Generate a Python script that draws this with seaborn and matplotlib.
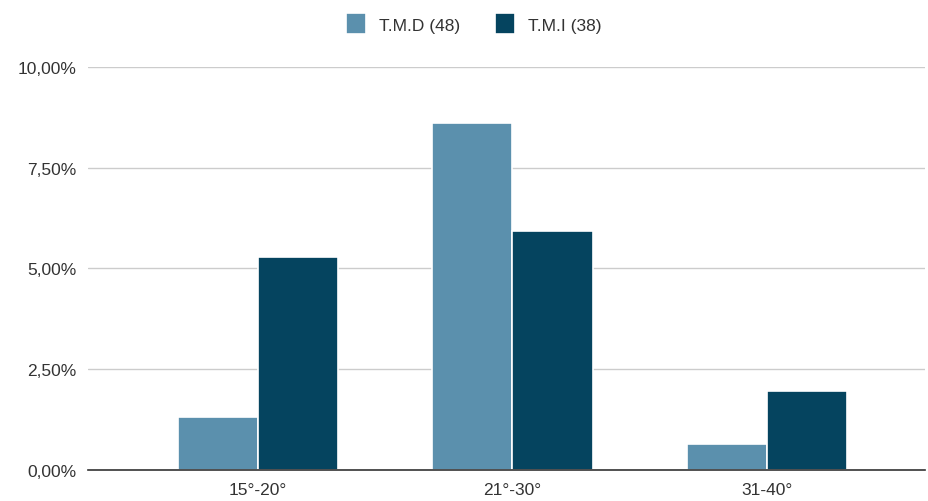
import matplotlib
matplotlib.use("Agg")
import matplotlib.pyplot as plt
import matplotlib.ticker as mticker
import seaborn as sns
import pandas as pd

# Data
categories = ["15°-20°", "21°-30°", "31-40°"]
series_names = ["T.M.D (48)", "T.M.I (38)"]
tmd_values = [0.0131, 0.0861, 0.0065]
tmi_values = [0.0529, 0.0594, 0.0197]
y_ticks = [0.0, 0.025, 0.05, 0.075, 0.10]

colors = ["#5b90ad", "#05445f"]

sns.set_theme(style="white")
plt.rcParams["font.family"] = ["Liberation Sans", "DejaVu Sans"]

df = pd.DataFrame({
    "categoria": categories * 2,
    "serie": [series_names[0]] * 3 + [series_names[1]] * 3,
    "valor": tmd_values + tmi_values,
})

fig = plt.figure(figsize=(9.29, 5.02), dpi=100)
ax = fig.add_axes([0.0947, 0.0618, 0.9010, 0.8027])

sns.barplot(data=df, x="categoria", y="valor", hue="serie", order=categories,
            hue_order=series_names, palette=colors, width=0.63, saturation=1,
            edgecolor="white", linewidth=1.2, ax=ax, legend=True)

ax.set_xlim(-0.667, 2.62)
ax.set_ylim(0, 0.10)
ax.set_yticks(y_ticks)
ax.yaxis.set_major_formatter(mticker.FuncFormatter(
    lambda v, _: f"{v * 100:.2f}%".replace(".", ",")))
ax.yaxis.grid(True, color="#cccccc", linewidth=1)
ax.set_axisbelow(True)
for side in ["top", "right", "left"]:
    ax.spines[side].set_visible(False)
ax.spines["bottom"].set_color("#333333")
ax.spines["bottom"].set_linewidth(1.2)
ax.tick_params(axis="both", length=0, labelsize=12.5, colors="#333333", pad=8)
ax.tick_params(axis="x", pad=9)
ax.set_xlabel("")
ax.set_ylabel("")

handles, labels = ax.get_legend_handles_labels()
ax.legend(handles, labels, loc="center", bbox_to_anchor=(0.461, 1.107),
          ncol=2, frameon=False, fontsize=12.5, handlelength=1.15, handleheight=1.5,
          handletextpad=0.75, columnspacing=2.0, labelcolor="#333333")

fig.savefig("out.png", dpi=100, facecolor="white")
